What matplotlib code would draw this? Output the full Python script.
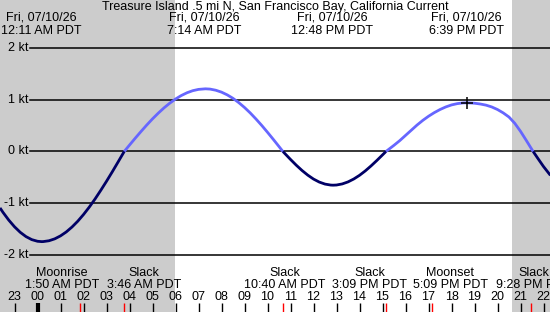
# -*- coding: utf-8 -*-

# Tidal current chart - Treasure Island .5 mi N, San Francisco Bay

import numpy as np
import matplotlib
matplotlib.use('Agg')
import matplotlib.pyplot as plt
from matplotlib.transforms import blended_transform_factory

plt.rcParams['font.family'] = ['Liberation Sans', 'DejaVu Sans']

title = 'Treasure Island .5 mi N, San Francisco Bay, California Current'

# current speed (kt), hours after midnight 07/10/26
hours = [-1.63, -1.5, -1.25, -1.0, -0.75, -0.5, -0.25, 0.0, 0.18,
         0.25, 0.5, 0.75, 1.0, 1.25, 1.5, 1.75, 2.0, 2.25, 2.5, 2.75, 3.0, 3.25, 3.5, 3.77,
         4.0, 4.25, 4.5, 4.75, 5.0, 5.25, 5.5, 5.75, 6.0, 6.25, 6.5, 6.75, 7.0, 7.3,
         7.5, 7.75, 8.0, 8.25, 8.5, 8.75, 9.0, 9.25, 9.5, 9.75, 10.0, 10.25, 10.5, 10.67,
         11.0, 11.25, 11.5, 11.75, 12.0, 12.25, 12.5, 12.75, 12.85,
         13.0, 13.25, 13.5, 13.75, 14.0, 14.25, 14.5, 14.75, 15.0, 15.15,
         15.5, 15.75, 16.0, 16.25, 16.5, 16.75, 17.0, 17.25, 17.5, 17.75, 18.0, 18.25, 18.5, 18.66,
         18.75, 19.0, 19.25, 19.5, 19.75, 20.0, 20.25, 20.5, 20.75, 21.0, 21.25, 21.5, 21.55,
         21.75, 22.0, 22.3]
speed = [-1.089, -1.175, -1.324, -1.453, -1.560, -1.643, -1.701, -1.733, -1.74,
         -1.739, -1.723, -1.686, -1.629, -1.553, -1.458, -1.346, -1.217, -1.074, -0.918,
         -0.750, -0.575, -0.393, -0.205, 0.0,
         0.124, 0.257, 0.386, 0.511, 0.630, 0.740, 0.842, 0.933, 1.013, 1.080, 1.134,
         1.174, 1.199, 1.21,
         1.205, 1.183, 1.146, 1.093, 1.026, 0.944, 0.850, 0.744, 0.627, 0.503, 0.371,
         0.235, 0.096, 0.0,
         -0.153, -0.264, -0.366, -0.456, -0.532, -0.590, -0.629, -0.648, -0.65,
         -0.647, -0.626, -0.587, -0.531, -0.460, -0.375, -0.279, -0.175, -0.066, 0.0,
         0.12, 0.21, 0.31, 0.41, 0.51, 0.60, 0.68, 0.75, 0.81, 0.86, 0.899, 0.924, 0.938, 0.94,
         0.939, 0.932, 0.917, 0.895, 0.86, 0.81, 0.745, 0.665, 0.545, 0.39, 0.215, 0.035, 0.0,
         -0.13, -0.29, -0.46]

# max current events (top labels)
peak_times = [0.183, 7.233, 12.8, 18.65]
peak_labels = ['12:11 AM PDT', '7:14 AM PDT', '12:48 PM PDT', '6:39 PM PDT']

# slack / moon events (bottom labels)
event_times = [1.833, 3.767, 10.667, 15.15, 17.15, 21.467]
event_names = ['Moonrise', 'Slack', 'Slack', 'Slack', 'Moonset', 'Slack']
event_labels = ['1:50 AM PDT', '3:46 AM PDT', '10:40 AM PDT', '3:09 PM PDT',
                '5:09 PM PDT', '9:28 PM PDT']
label_shift = [-0.78, 0.85, 0.1, -0.7, 0.8, 0.1]   # hours, to keep labels apart

sunrise = 5.98
sunset = 20.63
marker = (18.66, 0.94)
kt_levels = [2, 1, 0, -1, -2]
tick_hours = list(range(-1, 23))

W, H = 550, 312
x0, x1 = -37.5 / 23, (W - 37.5) / 23
y1, y0 = 151.5 / 51.8, -(H - 151.5) / 51.8

fig = plt.figure(figsize=(W / 100, H / 100), dpi=100)
ax = fig.add_axes([0, 0, 1, 1])
ax.set_xlim(x0, x1)
ax.set_ylim(y0, y1)
ax.axis('off')

def fy(p):
    # pixel row -> axes fraction
    return 1 - p / H

xt = ax.get_xaxis_transform()
yt = blended_transform_factory(ax.transAxes, ax.transData)

# night shading
ax.axvspan(x0, sunrise, color='#cccccc', lw=0, zorder=0)
ax.axvspan(sunset, x1, color='#cccccc', lw=0, zorder=0)

# grid lines with kt labels
for k in kt_levels:
    ax.axhline(k, xmin=30 / W, xmax=1, color='black', lw=1.1, zorder=1)
    ax.text(28.5 / W, k, '%d kt' % k, transform=yt, ha='right', va='center', fontsize=9)

# curve: flood light blue, ebb dark navy
t = np.array(hours)
v = np.array(speed)
ax.plot(t, np.ma.masked_where(v < 0, v), color='#6666ff', lw=2, zorder=3,
        solid_joinstyle='round', solid_capstyle='butt')
ax.plot(t, np.ma.masked_where(v > 0, v), color='#000066', lw=2, zorder=3,
        solid_joinstyle='round', solid_capstyle='butt')
ax.plot(*marker, marker='+', color='black', ms=9, mew=1.1, zorder=4)

# top labels
ax.text(0.5, fy(7), title, transform=ax.transAxes, ha='center', va='center', fontsize=9)
for tm, lab in zip(peak_times, peak_labels):
    ax.text(tm, fy(18), 'Fri, 07/10/26', transform=xt, ha='center', va='center', fontsize=9)
    ax.text(tm, fy(31), lab, transform=xt, ha='center', va='center', fontsize=9)

# bottom event labels
for tm, name, lab, sh in zip(event_times, event_names, event_labels, label_shift):
    ax.text(tm + sh, fy(273), name, transform=xt, ha='center', va='center', fontsize=9)
    ax.text(tm + sh, fy(285), lab, transform=xt, ha='center', va='center', fontsize=9)

# hour ticks
for h in tick_hours:
    ax.text(h, fy(297.5), '%02d' % (h % 24), transform=xt, ha='center', va='center', fontsize=9)
    ax.vlines(h, 0, fy(303), transform=xt, color='black', lw=3 if h == 0 else 1)
ax.vlines(event_times, 0, fy(303), transform=xt, color='red', lw=1)

fig.savefig('out.png', dpi=100)
